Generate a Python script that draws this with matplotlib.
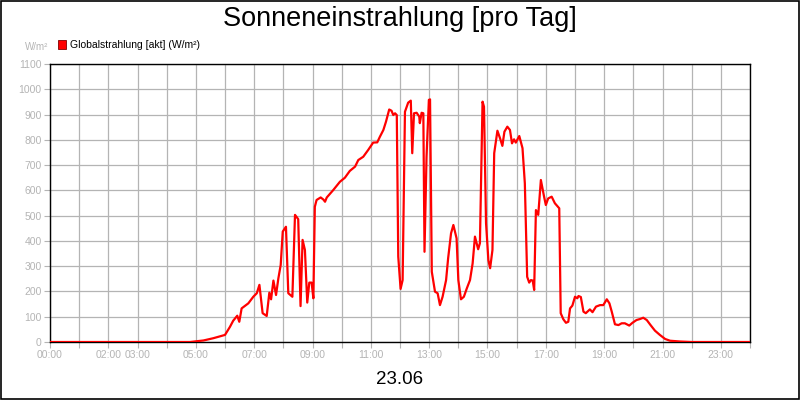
import matplotlib
matplotlib.use("Agg")
import matplotlib.pyplot as plt
from matplotlib.patches import Rectangle

plt.rcParams['font.family'] = ['Liberation Sans', 'DejaVu Sans']

# time of day in hours, irradiance in W/m²
hours = [0.0, 4.8, 5.26, 5.6, 6.0, 6.17, 6.28, 6.42, 6.49, 6.57, 6.80, 6.97,
         7.09, 7.18, 7.29, 7.43, 7.52, 7.58, 7.66, 7.75, 7.83, 7.91, 7.98, 8.09,
         8.17, 8.31, 8.40, 8.51, 8.59, 8.66, 8.74, 8.82, 8.89, 8.97, 9.03, 9.08,
         9.14, 9.28, 9.37, 9.43, 9.49, 9.71, 9.94, 10.11, 10.28, 10.46, 10.57,
         10.74, 10.91, 11.08, 11.22, 11.31, 11.43, 11.52, 11.63, 11.71, 11.77,
         11.83, 11.89, 11.94, 12.02, 12.09, 12.17, 12.28, 12.37, 12.42, 12.48,
         12.57, 12.66, 12.68, 12.74, 12.80, 12.84, 12.91, 12.99, 13.03, 13.09,
         13.20, 13.29, 13.37, 13.46, 13.58, 13.65, 13.75, 13.83, 13.94, 14.00,
         14.09, 14.19, 14.29, 14.40, 14.49, 14.57, 14.68, 14.74, 14.83, 14.88,
         14.95, 15.03, 15.09, 15.17, 15.23, 15.34, 15.43, 15.51, 15.58, 15.68,
         15.77, 15.84, 15.91, 15.97, 16.09, 16.20, 16.28, 16.36, 16.43, 16.49,
         16.55, 16.60, 16.66, 16.74, 16.83, 16.94, 17.00, 17.08, 17.20, 17.31,
         17.46, 17.51, 17.60, 17.69, 17.77, 17.83, 17.91, 18.00, 18.08, 18.12,
         18.20, 18.29, 18.37, 18.51, 18.60, 18.72, 18.86, 18.97, 19.09, 19.18,
         19.26, 19.37, 19.49, 19.60, 19.71, 19.86, 19.97, 20.11, 20.23, 20.34,
         20.46, 20.59, 20.74, 20.91, 21.09, 21.26, 21.6, 22.0, 24.0]
values = [0, 0, 6, 15, 28, 60, 84, 104, 80, 133, 153, 179,
          193, 226, 114, 103, 195, 169, 243, 186, 252, 305, 437, 456,
          193, 179, 503, 486, 142, 404, 364, 156, 235, 235, 173, 535,
          562, 572, 564, 555, 572, 601, 634, 650, 677, 694, 720,
          733, 760, 789, 790, 812, 839, 872, 920, 915, 898,
          905, 898, 338, 210, 245, 911, 947, 955, 747, 905,
          907, 892, 866, 907, 905, 357, 733, 958, 960, 278,
          199, 193, 146, 179, 245, 331, 430, 463, 410, 245,
          169, 179, 212, 245, 311, 417, 367, 391, 951, 931,
          470, 324, 292, 364, 747, 836, 806, 776, 832, 852,
          839, 786, 802, 789, 815, 767, 628, 258, 235, 245,
          243, 206, 522, 503, 641, 575, 542, 568, 575, 549,
          529, 114, 90, 76, 80, 133, 144, 179, 173, 182,
          178, 120, 114, 129, 118, 140, 146, 146, 169, 153,
          120, 70, 67, 74, 74, 65, 76, 87, 91, 96,
          87, 67, 45, 28, 12, 5, 2, 0, 0]

x_ticks = list(range(25))
x_labels = {0: "00:00", 2: "02:00", 3: "03:00", 5: "05:00", 7: "07:00",
            9: "09:00", 11: "11:00", 13: "13:00", 15: "15:00", 17: "17:00",
            19: "19:00", 21: "21:00", 23: "23:00"}
y_ticks = list(range(0, 1101, 100))

grey = "#b4b4b4"

fig = plt.figure(figsize=(8, 4), dpi=100)
ax = fig.add_axes([50 / 800, 1 - 342 / 400, 700 / 800, 278 / 400])

ax.plot(hours, values, color="#ff0000", linewidth=1.6, zorder=3)

ax.set_xlim(0, 24)
ax.set_ylim(0, 1100)
ax.set_xticks(x_ticks)
ax.set_xticklabels([x_labels.get(h, "") for h in x_ticks])
ax.set_yticks(y_ticks)
ax.grid(True, color=grey, linewidth=0.9)
ax.set_axisbelow(True)
ax.tick_params(colors=grey, labelcolor=grey, labelsize=7.5, length=4, width=0.8, pad=2)
for s in ax.spines.values():
    s.set_color("black")
    s.set_linewidth(1.0)

fig.text(0.5, 1 - 19 / 400, "Sonneneinstrahlung [pro Tag]", ha="center", va="center", fontsize=19.5)
fig.text(0.5, 1 - 380 / 400, "23.06", ha="center", va="center", fontsize=13.5)
fig.text(48 / 800, 1 - 47 / 400, "W/m²", ha="right", va="center", fontsize=7, color=grey)

fig.patches.append(Rectangle((58 / 800, 1 - 48.5 / 400), 8 / 800, 8 / 400,
                             transform=fig.transFigure, facecolor="#ff0000",
                             edgecolor="#800000", linewidth=0.6))
fig.text(70 / 800, 1 - 44.5 / 400, "Globalstrahlung [akt] (W/m²)", ha="left", va="center", fontsize=7.5)

fig.patches.append(Rectangle((0.0008, 0.0016), 0.998, 0.9968, transform=fig.transFigure,
                             fill=False, edgecolor="black", linewidth=1.2))

fig.savefig("out.png", dpi=100)
